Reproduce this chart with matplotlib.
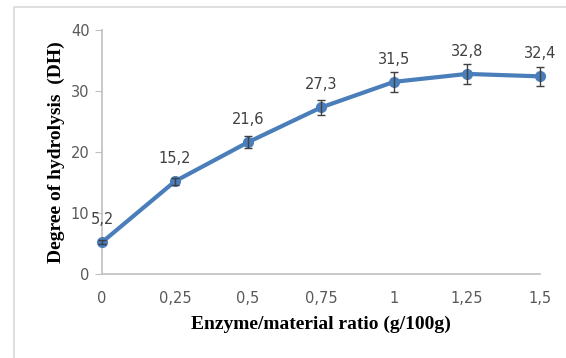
import numpy as np
import matplotlib
matplotlib.use('Agg')
import matplotlib.pyplot as plt
from matplotlib.patches import Rectangle

# data
ratio = [0, 0.25, 0.5, 0.75, 1, 1.25, 1.5]
ratio_labels = ['0', '0,25', '0,5', '0,75', '1', '1,25', '1,5']
dh = [5.2, 15.2, 21.6, 27.3, 31.5, 32.8, 32.4]
dh_err = [0.3, 0.6, 1.0, 1.3, 1.6, 1.6, 1.5]
dh_labels = ['5,2', '15,2', '21,6', '27,3', '31,5', '32,8', '32,4']

plt.rcParams['font.family'] = ['DejaVu Sans']

fig = plt.figure(figsize=(5.66, 3.58), dpi=100)
ax = fig.add_axes([102 / 566, 84 / 358, 438 / 566, 244 / 358])

# outer frame like the Excel chart area
fig.patches.append(Rectangle((14 / 566, -0.05), 1.0, 1 - 7 / 358 + 0.05,
                             transform=fig.transFigure, fill=False,
                             edgecolor='#D9D9D9', linewidth=1.2))

ax.plot(ratio, dh, color='#4A7EBB', linewidth=3, marker='o', markersize=7,
        clip_on=False, zorder=3)
ax.errorbar(ratio, dh, yerr=dh_err, fmt='none', ecolor='#404040',
            elinewidth=1, capsize=3, capthick=1, clip_on=False, zorder=4)

for x, y, t in zip(ratio, dh, dh_labels):
    ax.annotate(t, (x, y), xytext=(0, 11), textcoords='offset points',
                ha='center', va='bottom', fontsize=10.5, color='#404040')

ax.set_xlim(0, 1.5)
ax.set_ylim(0, 40)
ax.set_xticks(ratio)
ax.set_xticklabels(ratio_labels)
ax.set_yticks([0, 10, 20, 30, 40])

for s in ['top', 'right']:
    ax.spines[s].set_visible(False)
for s in ['left', 'bottom']:
    ax.spines[s].set_color('#BFBFBF')
    ax.spines[s].set_linewidth(1.2)
ax.tick_params(axis='y', colors='#BFBFBF', labelcolor='#595959', labelsize=10.5,
               length=5, pad=4)
ax.tick_params(axis='x', length=0, labelcolor='#595959', labelsize=10.5, pad=12)

ax.set_xlabel('Enzyme/material ratio (g/100g)', family='Liberation Serif',
              fontweight='bold', fontsize=14, labelpad=7)
ax.set_ylabel('Degree of hydrolysis  (DH)', family='Liberation Serif',
              fontweight='bold', fontsize=14, labelpad=4)

fig.savefig('out.png', dpi=100)
